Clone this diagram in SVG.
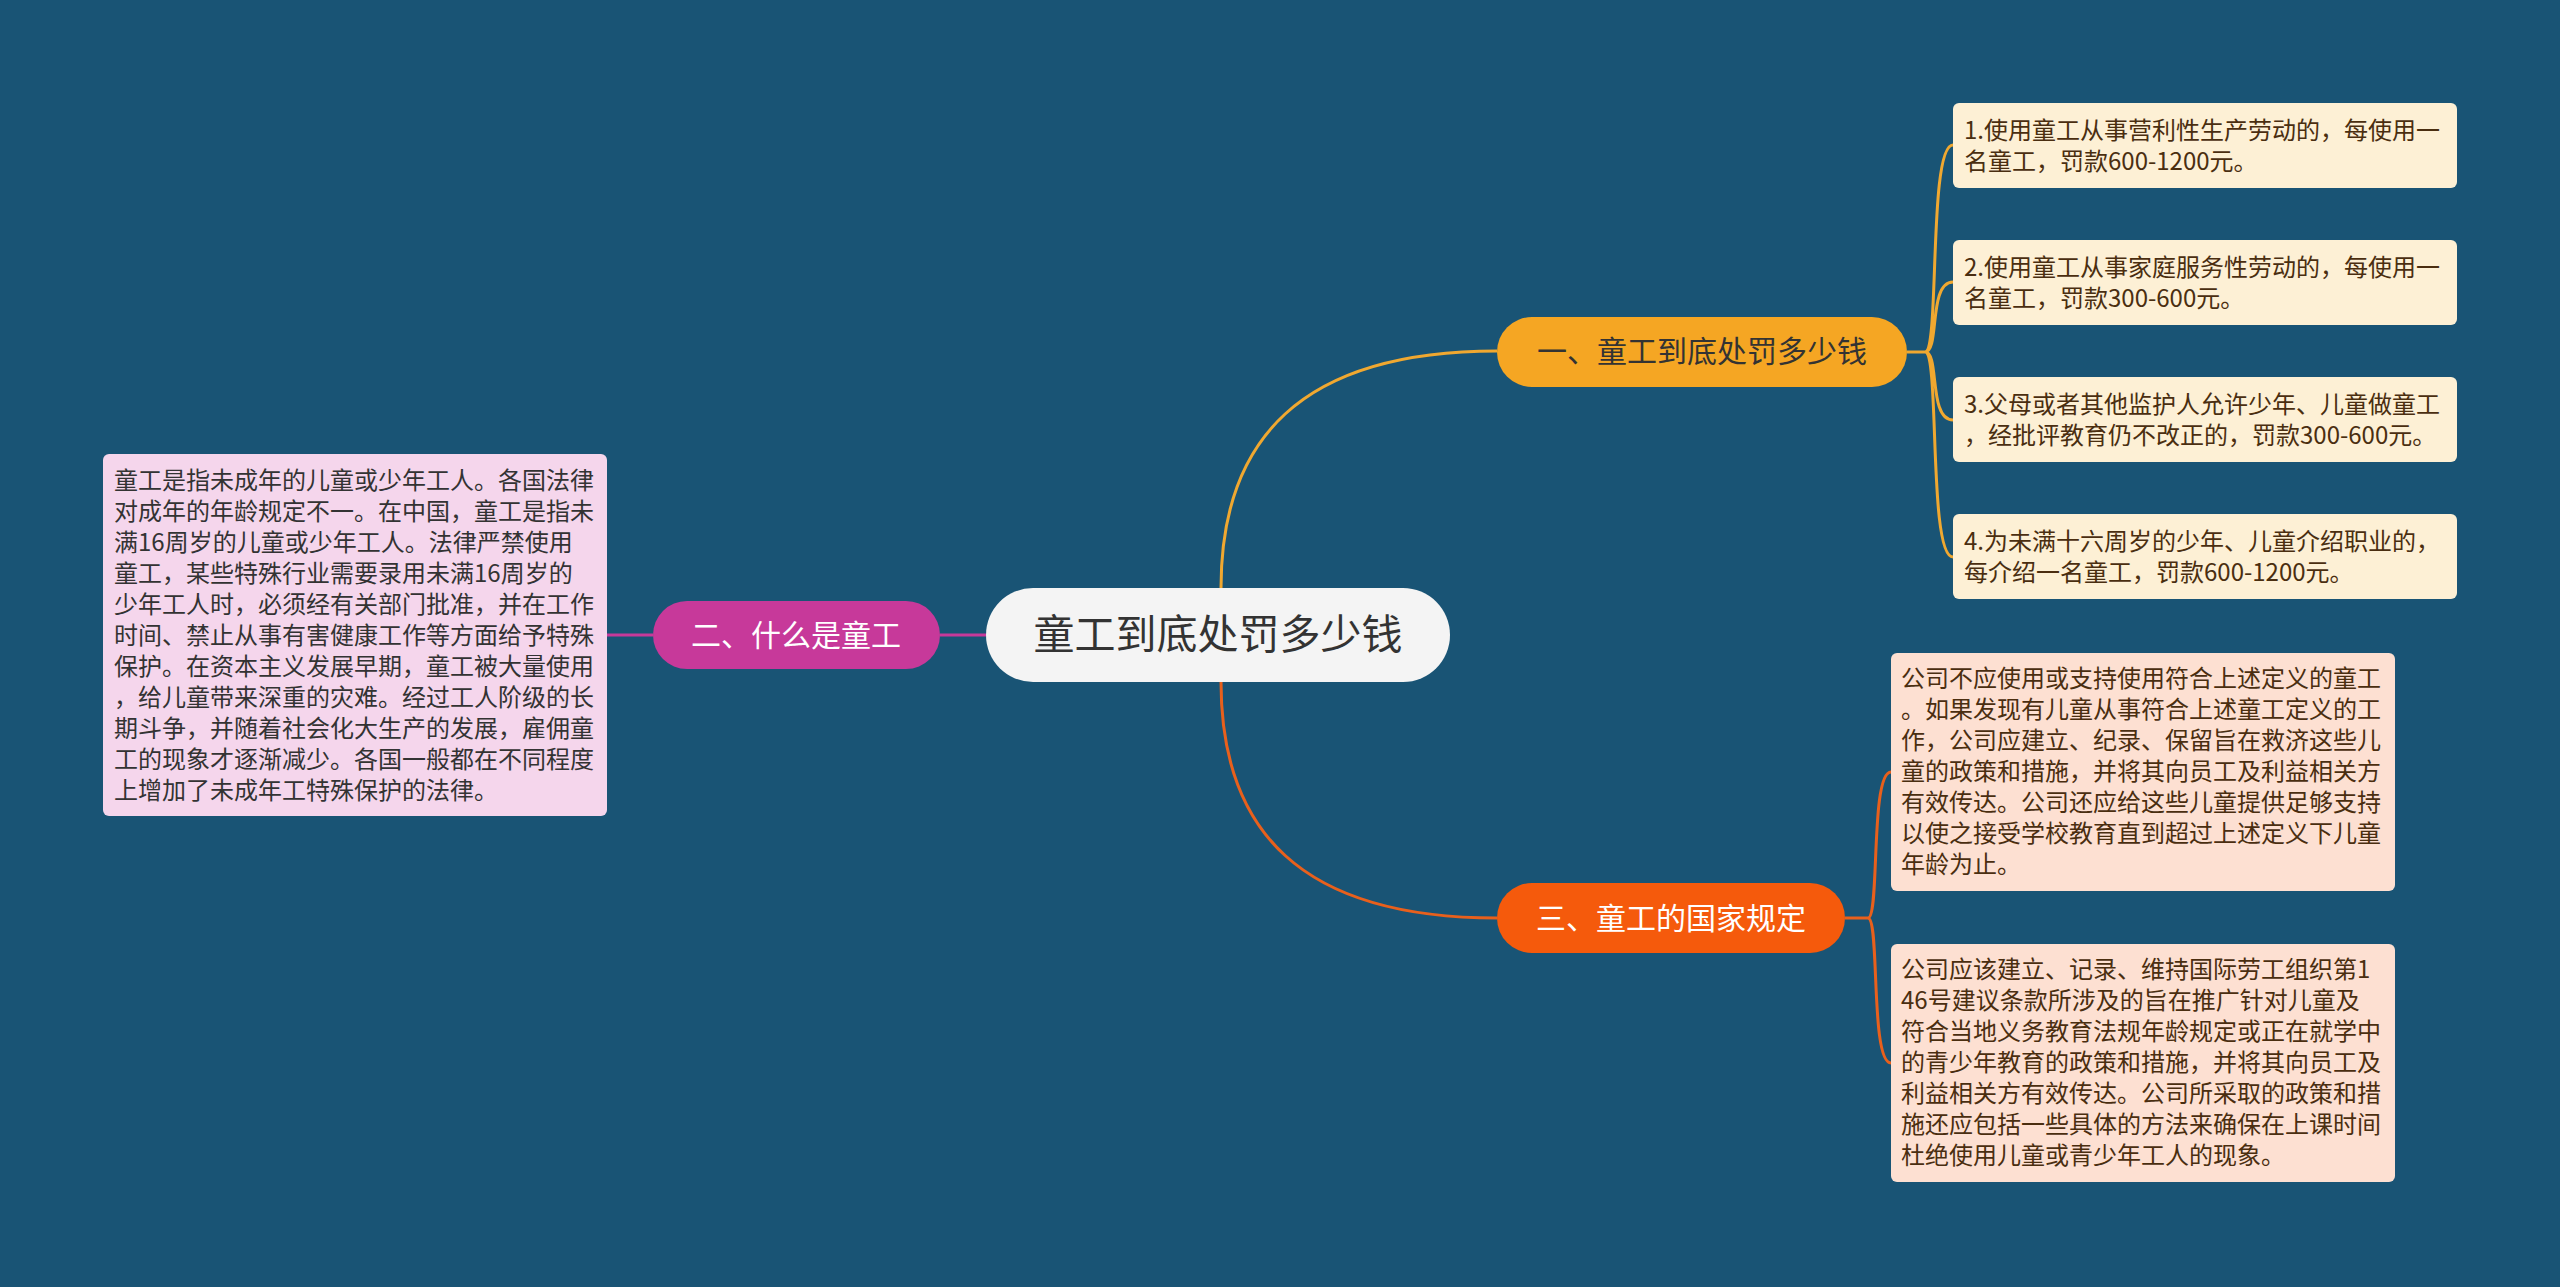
<svg xmlns="http://www.w3.org/2000/svg" width="2560" height="1287" viewBox="0 0 2560 1287">
<style>
text{font-family:"Noto Sans CJK SC","Noto Sans",sans-serif}
.t{font-size:24px;fill:#333}
.l{font-size:24px;fill:#4a2e10}
.c{fill:none;stroke-width:3}
</style>
<rect width="2560" height="1287" fill="#195475"/>
<g id="connectors">
<path class="c" stroke="#f0a830" d="M1221 588 C1221 440 1300 351 1497 351"/>
<path class="c" stroke="#e8601c" d="M1221 682 C1221 830 1300 918 1497 918"/>
<path class="c" stroke="#c7399a" d="M986 635 L940 635 M653 635 L607 635"/>
<path class="c" stroke="#f0a830" d="M1907 352 L1925 352 M1925 352 C1940 352 1928 145 1953 145 M1925 352 C1940 352 1928 282 1953 282 M1925 352 C1940 352 1928 420 1953 420 M1925 352 C1940 352 1928 557 1953 557"/>
<path class="c" stroke="#e8601c" d="M1845 918 L1868 918 M1868 918 C1880 918 1870 772 1891 772 M1868 918 C1880 918 1870 1063 1891 1063"/>
</g>
<g id="center"><rect x="986" y="588" width="464" height="94" rx="47" fill="#f4f4f4"/><text x="1218" y="649" font-size="41" fill="#333" text-anchor="middle">童工到底处罚多少钱</text></g>
<g id="n2"><rect x="653" y="601" width="287" height="68" rx="34" fill="#c7399a"/><text x="796" y="646" font-size="30" fill="#fff" text-anchor="middle">二、什么是童工</text></g>
<g id="n2text"><rect x="103" y="454" width="504" height="362" rx="6" fill="#f5d6ec"/>
<text class="t" x="114"><tspan x="114" y="489">童工是指未成年的儿童或少年工人。各国法律</tspan><tspan x="114" y="520">对成年的年龄规定不一。在中国，童工是指未</tspan><tspan x="114" y="551">满16周岁的儿童或少年工人。法律严禁使用</tspan><tspan x="114" y="582">童工，某些特殊行业需要录用未满16周岁的</tspan><tspan x="114" y="613">少年工人时，必须经有关部门批准，并在工作</tspan><tspan x="114" y="644">时间、禁止从事有害健康工作等方面给予特殊</tspan><tspan x="114" y="675">保护。在资本主义发展早期，童工被大量使用</tspan><tspan x="114" y="706">，给儿童带来深重的灾难。经过工人阶级的长</tspan><tspan x="114" y="737">期斗争，并随着社会化大生产的发展，雇佣童</tspan><tspan x="114" y="768">工的现象才逐渐减少。各国一般都在不同程度</tspan><tspan x="114" y="799">上增加了未成年工特殊保护的法律。</tspan></text></g>
<g id="n1"><rect x="1497" y="317" width="410" height="70" rx="35" fill="#f5a623"/><text x="1702" y="362" font-size="30" fill="#333" text-anchor="middle">一、童工到底处罚多少钱</text></g>
<g id="leaf1"><rect x="1953" y="103" width="504" height="85" rx="6" fill="#fdf0d5"/><text class="l"><tspan x="1964" y="139">1.使用童工从事营利性生产劳动的，每使用一</tspan><tspan x="1964" y="170">名童工，罚款600-1200元。</tspan></text></g>
<g id="leaf2"><rect x="1953" y="240" width="504" height="85" rx="6" fill="#fdf0d5"/><text class="l"><tspan x="1964" y="276">2.使用童工从事家庭服务性劳动的，每使用一</tspan><tspan x="1964" y="307">名童工，罚款300-600元。</tspan></text></g>
<g id="leaf3"><rect x="1953" y="377" width="504" height="85" rx="6" fill="#fdf0d5"/><text class="l"><tspan x="1964" y="413">3.父母或者其他监护人允许少年、儿童做童工</tspan><tspan x="1964" y="444">，经批评教育仍不改正的，罚款300-600元。</tspan></text></g>
<g id="leaf4"><rect x="1953" y="514" width="504" height="85" rx="6" fill="#fdf0d5"/><text class="l"><tspan x="1964" y="550">4.为未满十六周岁的少年、儿童介绍职业的，</tspan><tspan x="1964" y="581">每介绍一名童工，罚款600-1200元。</tspan></text></g>
<g id="n3"><rect x="1497" y="883" width="348" height="70" rx="35" fill="#f55a0c"/><text x="1671" y="929" font-size="30" fill="#fff" text-anchor="middle">三、童工的国家规定</text></g>
<g id="leafA"><rect x="1891" y="653" width="504" height="238" rx="6" fill="#fde0d2"/><text class="l"><tspan x="1901" y="687">公司不应使用或支持使用符合上述定义的童工</tspan><tspan x="1901" y="718">。如果发现有儿童从事符合上述童工定义的工</tspan><tspan x="1901" y="749">作，公司应建立、纪录、保留旨在救济这些儿</tspan><tspan x="1901" y="780">童的政策和措施，并将其向员工及利益相关方</tspan><tspan x="1901" y="811">有效传达。公司还应给这些儿童提供足够支持</tspan><tspan x="1901" y="842">以使之接受学校教育直到超过上述定义下儿童</tspan><tspan x="1901" y="873">年龄为止。</tspan></text></g>
<g id="leafB"><rect x="1891" y="944" width="504" height="238" rx="6" fill="#fde0d2"/><text class="l"><tspan x="1901" y="978">公司应该建立、记录、维持国际劳工组织第1</tspan><tspan x="1901" y="1009">46号建议条款所涉及的旨在推广针对儿童及</tspan><tspan x="1901" y="1040">符合当地义务教育法规年龄规定或正在就学中</tspan><tspan x="1901" y="1071">的青少年教育的政策和措施，并将其向员工及</tspan><tspan x="1901" y="1102">利益相关方有效传达。公司所采取的政策和措</tspan><tspan x="1901" y="1133">施还应包括一些具体的方法来确保在上课时间</tspan><tspan x="1901" y="1164">杜绝使用儿童或青少年工人的现象。</tspan></text></g>
</svg>
